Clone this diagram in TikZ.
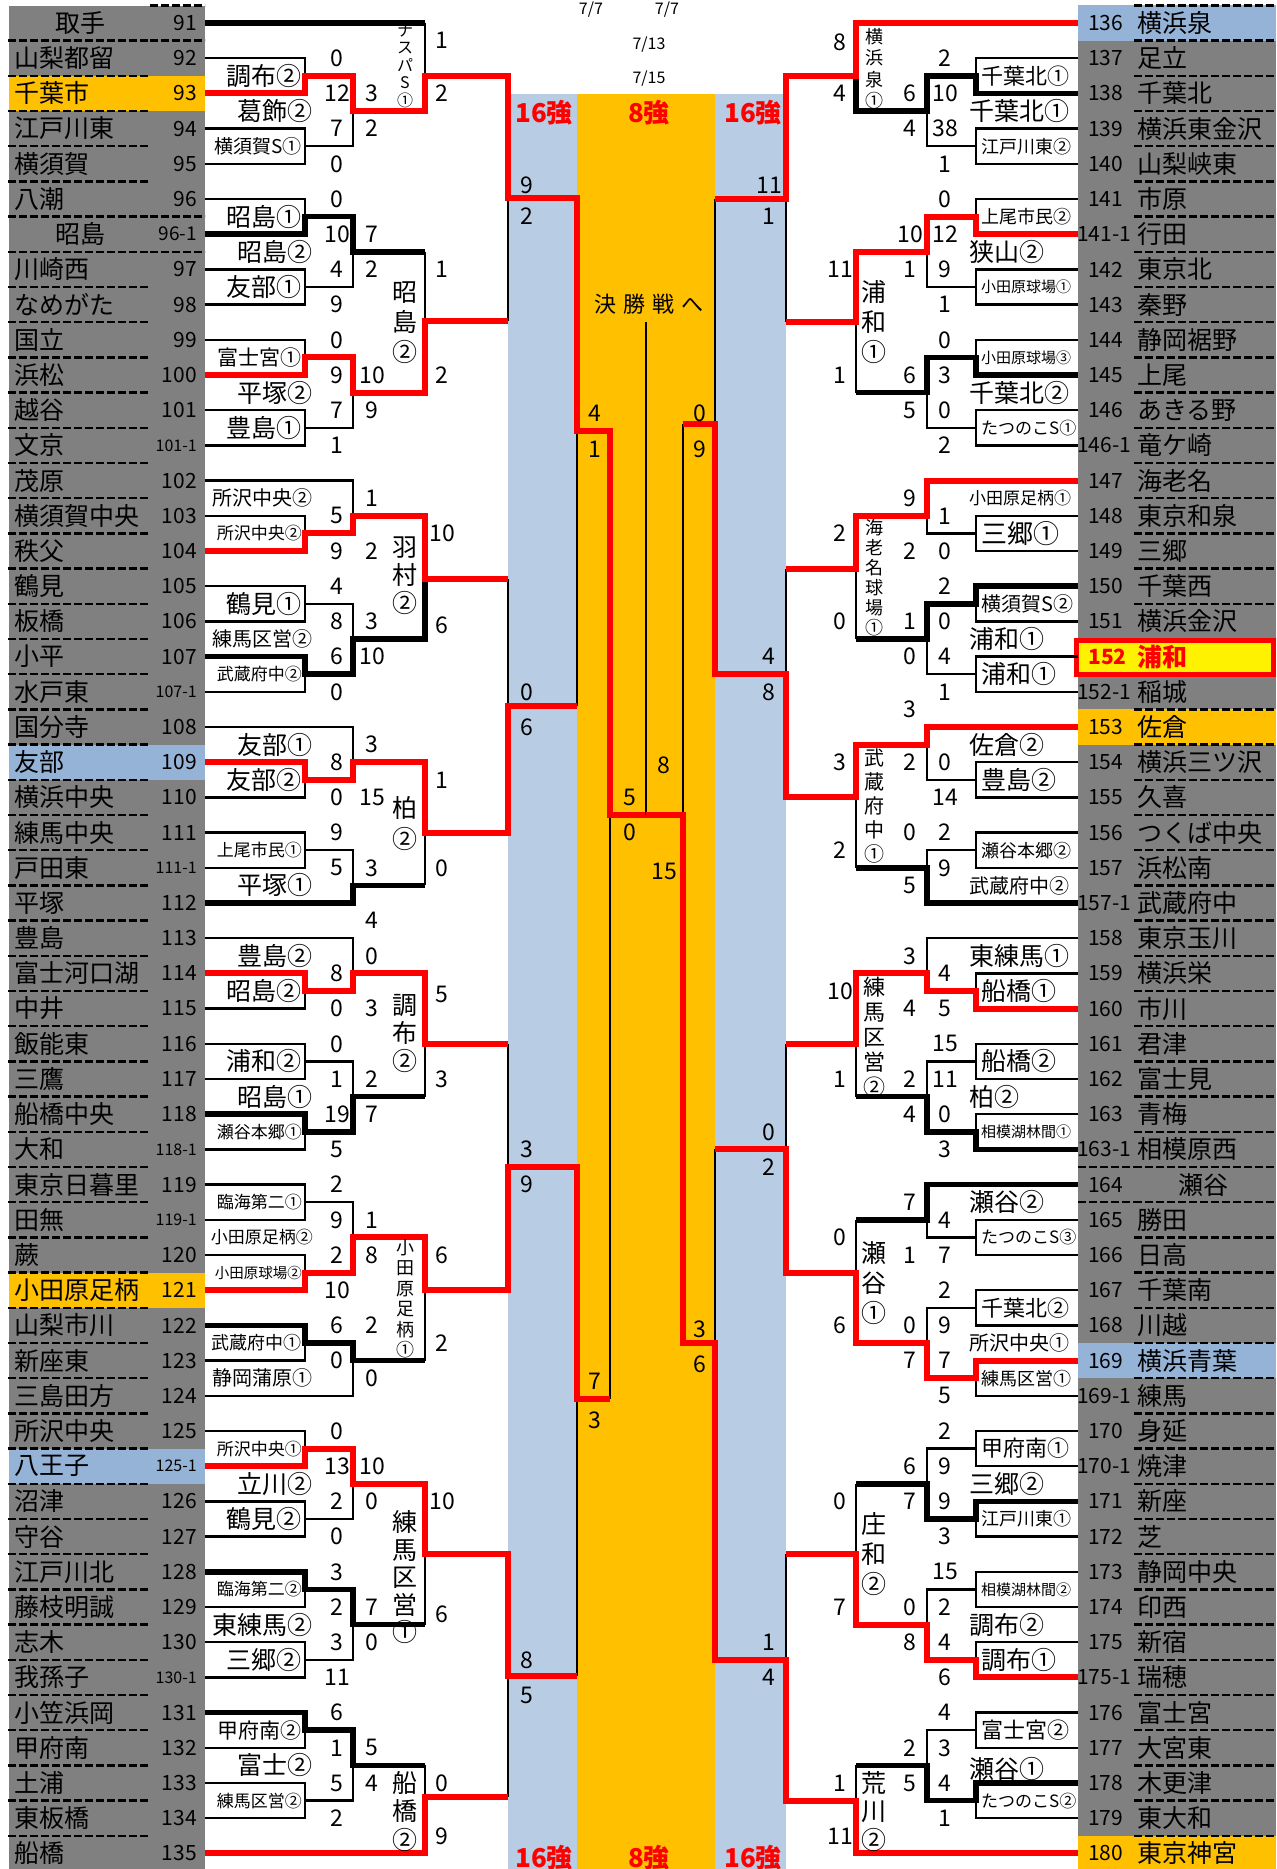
\documentclass[tikz,border=0pt]{standalone}
\usepackage{fontspec}
\setmainfont{Noto Sans CJK JP}
\newcommand{\fsz}[1]{\fontsize{#1}{#1}\selectfont}
\newcommand{\smn}[1]{{\fsz{16}#1}}
\newcommand{\rmn}[1]{\hspace*{-11pt}#1}
\newcommand{\hlt}[1]{\textcolor{red}{\bfseries #1}}
\definecolor{cgray}{HTML}{808080}
\definecolor{cband}{HTML}{B8CCE4}
\definecolor{cora}{HTML}{FFC000}
\definecolor{cblue}{HTML}{95B3D7}
\tikzset{
  tln/.style={line width=2.5pt},
  kln/.style={line width=5.5pt},
  rln/.style={line width=6pt,red},
  dln/.style={line width=2.5pt,dash pattern=on 8pt off 3pt},
  sc/.style={font=\fsz{23},inner sep=0pt},
  lname/.style={font=\fsz{25},inner sep=0pt,anchor=west},
  lnum/.style={font=\fsz{21},inner sep=0pt},
  nl/.style={},
  nc/.style={anchor=center,xshift=66pt},
  blab/.style={inner sep=0pt},
  vt/.style={align=center,inner sep=0pt},
  rank/.style={font=\fsz{26}\bfseries,text=red,inner sep=0pt},
}
\begin{document}
\begin{tikzpicture}[x=1pt,y=-35.2pt]
\path[use as bounding box,fill=white] (0,-0.6534) rectangle (1276,52.443);

% columns and bands
\fill[cgray] (9,-0.48) rectangle (205,52.443);
\fill[cgray] (1078,-0.48) rectangle (1276,52.443);
\fill[cband] (508,2.02) rectangle (577,52.443);
\fill[cora] (577,2.02) rectangle (715,52.443);
\fill[cband] (715,2.02) rectangle (786,52.443);

% highlighted rows
\foreach \rw/\c in {2/cora,21/cblue,36/cora,41/cblue}
  \fill[\c] (9,\rw-0.5) rectangle (205,\rw+0.5);
\foreach \rw/\c in {0/cblue,20/cora,38/cblue,52/cora}
  \fill[\c] (1078,\rw-0.5) rectangle (1276,\rw+0.5);

% dashed row rules
\foreach \k in {0,...,51} {
  \draw[dln] (8,\k+0.5) -- (150,\k+0.5);
  \draw[dln] (1134,\k+0.5) -- (1276,\k+0.5);
}
\draw[dln] (150,-0.5) -- (205,-0.5) (150,0.5) -- (205,0.5) (150,5.5) -- (205,5.5) (150,6.5) -- (205,6.5);
\draw[dln] (1134,-0.5) -- (1276,-0.5) (1078,32.5) -- (1134,32.5) (1078,33.5) -- (1134,33.5);
\draw[red,line width=5pt,fill=yellow] (1076,17.53) rectangle (1273,18.52);

% left teams
\foreach \no/\nm/\st [count=\rw from 0] in {91/取手/nc, 92/山梨都留/nl, 93/千葉市/nl, 94/江戸川東/nl, 95/横須賀/nl, 96/八潮/nl, {\fsz{19}96-1}/昭島/nc, 97/川崎西/nl, 98/なめがた/nl, 99/国立/nl, 100/浜松/nl, 101/越谷/nl, {\smn{101-1}}/文京/nl, 102/茂原/nl, 103/横須賀中央/nl, 104/秩父/nl, 105/鶴見/nl, 106/板橋/nl, 107/小平/nl, {\smn{107-1}}/水戸東/nl, 108/国分寺/nl, 109/友部/nl, 110/横浜中央/nl, 111/練馬中央/nl, {\smn{111-1}}/戸田東/nl, 112/平塚/nl, 113/豊島/nl, 114/富士河口湖/nl, 115/中井/nl, 116/飯能東/nl, 117/三鷹/nl, 118/船橋中央/nl, {\smn{118-1}}/大和/nl, 119/東京日暮里/nl, {\smn{119-1}}/田無/nl, 120/蕨/nl, 121/小田原足柄/nl, 122/山梨市川/nl, 123/新座東/nl, 124/三島田方/nl, 125/所沢中央/nl, {\smn{125-1}}/八王子/nl, 126/沼津/nl, 127/守谷/nl, 128/江戸川北/nl, 129/藤枝明誠/nl, 130/志木/nl, {\smn{130-1}}/我孫子/nl, 131/小笠浜岡/nl, 132/甲府南/nl, 133/土浦/nl, 134/東板橋/nl, 135/船橋/nl} {
  \node[lname,\st] (ln\rw) at (14,\rw) {\nm};
  \node[lnum,anchor=east] (lx\rw) at (197,\rw) {\no};
}

% right teams
\foreach \no/\nm/\st [count=\rw from 0] in {136/横浜泉/nl, 137/足立/nl, 138/千葉北/nl, 139/横浜東金沢/nl, 140/山梨峡東/nl, 141/市原/nl, {\rmn{141-1}}/行田/nl, 142/東京北/nl, 143/秦野/nl, 144/静岡裾野/nl, 145/上尾/nl, 146/あきる野/nl, {\rmn{146-1}}/竜ケ崎/nl, 147/海老名/nl, 148/東京和泉/nl, 149/三郷/nl, 150/千葉西/nl, 151/横浜金沢/nl, {\hlt{152}}/{\hlt{浦和}}/nl, {\rmn{152-1}}/稲城/nl, 153/佐倉/nl, 154/横浜三ツ沢/nl, 155/久喜/nl, 156/つくば中央/nl, 157/浜松南/nl, {\rmn{157-1}}/武蔵府中/nl, 158/東京玉川/nl, 159/横浜栄/nl, 160/市川/nl, 161/君津/nl, 162/富士見/nl, 163/青梅/nl, {\rmn{163-1}}/相模原西/nl, 164/瀬谷/nc, 165/勝田/nl, 166/日高/nl, 167/千葉南/nl, 168/川越/nl, 169/横浜青葉/nl, {\rmn{169-1}}/練馬/nl, 170/身延/nl, {\rmn{170-1}}/焼津/nl, 171/新座/nl, 172/芝/nl, 173/静岡中央/nl, 174/印西/nl, 175/新宿/nl, {\rmn{175-1}}/瑞穂/nl, 176/富士宮/nl, 177/大宮東/nl, 178/木更津/nl, 179/東大和/nl, 180/東京神宮/nl} {
  \node[lname,\st] (rn\rw) at (1137,\rw) {\nm};
  \node[lnum,anchor=west] (rx\rw) at (1088,\rw) {\no};
}

% left bracket, plain lines
\draw[tln] (205,1) -- (305,1) -- (305,1.5);
\draw[tln] (425,0) -- (425,1.5);
\draw[tln] (205,3) -- (305,3) -- (305,4) -- (205,4) (305,3.5) -- (353,3.5) -- (353,2.5);
\draw[tln] (205,5) -- (305,5) -- (305,5.5);
\draw[tln] (425,6.5) -- (425,8.47);
\draw[tln] (205,7) -- (305,7) -- (305,8) -- (205,8) (305,7.5) -- (353,7.5) -- (353,6.5);
\draw[tln] (205,9) -- (305,9) -- (305,9.5);
\draw[tln] (508,8.47) -- (508,4.98);
\draw[tln] (205,11) -- (305,11) -- (305,12) -- (205,12) (305,11.5) -- (353,11.5) -- (353,10.5);
\draw[tln] (205,13) -- (353,13) -- (353,14);
\draw[tln] (205,14) -- (305,14) -- (305,14.5);
\draw[tln] (508,15.8) -- (508,19.4);
\draw[tln] (205,16) -- (305,16) -- (305,17) -- (205,17) (305,16.5) -- (353,16.5) -- (353,17.5);
\draw[tln] (205,19) -- (305,19) -- (305,18.5);
\draw[tln] (205,20) -- (353,20) -- (353,21);
\draw[tln] (577,19.4) -- (577,11.6);
\draw[tln] (205,22) -- (305,22) -- (305,21.5);
\draw[tln] (205,23) -- (305,23) -- (305,24) -- (205,24) (305,23.5) -- (353,23.5) -- (353,24.5);
\draw[tln] (425,24.5) -- (425,23);
\draw[tln] (205,26) -- (353,26) -- (353,27);
\draw[tln] (508,29) -- (508,32.5);
\draw[tln] (205,28) -- (305,28) -- (305,27.5);
\draw[tln] (205,29) -- (305,29) -- (305,30) -- (205,30) (305,29.5) -- (353,29.5) -- (353,30.5);
\draw[tln] (425,30.5) -- (425,29);
\draw[tln] (205,32) -- (305,32) -- (305,31.5);
\draw[tln] (205,33) -- (305,33) -- (305,34) -- (205,34) (305,33.5) -- (353,33.5) -- (353,34.5);
\draw[tln] (205,35) -- (305,35) -- (305,35.5);
\draw[tln] (610,39.1) -- (610,22.5);
\draw[tln] (425,38) -- (425,36);
\draw[tln] (205,38) -- (305,38) -- (305,37.5);
\draw[tln] (205,39) -- (353,39) -- (353,38);
\draw[tln] (205,40) -- (305,40) -- (305,40.5);
\draw[tln] (577,46.95) -- (577,39.1);
\draw[tln] (205,42) -- (305,42) -- (305,43) -- (205,43) (305,42.5) -- (353,42.5) -- (353,41.5);
\draw[tln] (425,45.5) -- (425,43.5);
\draw[tln] (205,45) -- (305,45) -- (305,44.5);
\draw[tln] (205,46) -- (305,46) -- (305,47) -- (205,47) (305,46.5) -- (353,46.5) -- (353,45.5);
\draw[tln] (425,49.5) -- (425,50.4);
\draw[tln] (205,49) -- (305,49) -- (305,48.5);
\draw[tln] (205,50) -- (305,50) -- (305,51) -- (205,51) (305,50.5) -- (353,50.5) -- (353,49.5);
\draw[tln] (508,50.4) -- (508,46.95);

% left bracket, bold lines
\draw[kln] (205,0) -- (425,0);
\draw[kln] (205,6) -- (305,6) -- (305,5.5) -- (353,5.5) -- (353,6.5) -- (425,6.5);
\draw[kln] (205,18) -- (305,18) -- (305,18.5) -- (353,18.5) -- (353,17.5) -- (425,17.5) -- (425,15.8);
\draw[kln] (205,25) -- (353,25) -- (353,24.5) -- (425,24.5);
\draw[kln] (205,31) -- (305,31) -- (305,31.5) -- (353,31.5) -- (353,30.5) -- (425,30.5);
\draw[kln] (205,37) -- (305,37) -- (305,37.5) -- (353,37.5) -- (353,38) -- (425,38);
\draw[kln] (205,44) -- (305,44) -- (305,44.5) -- (353,44.5) -- (353,45.5) -- (425,45.5);
\draw[kln] (205,48) -- (305,48) -- (305,48.5) -- (353,48.5) -- (353,49.5) -- (425,49.5);

% left bracket, red lines
\draw[rln] (205,2) -- (305,2) -- (305,1.5) -- (353,1.5) -- (353,2.5) -- (425,2.5) -- (425,1.5) -- (508,1.5) -- (508,4.98) -- (577,4.98) -- (577,11.6) -- (610,11.6) -- (610,22.5) -- (646,22.5);
\draw[rln] (205,10) -- (305,10) -- (305,9.5) -- (353,9.5) -- (353,10.5) -- (425,10.5) -- (425,8.47) -- (508,8.47);
\draw[rln] (205,15) -- (305,15) -- (305,14.5) -- (353,14.5) -- (353,14) -- (425,14) -- (425,15.8) -- (508,15.8);
\draw[rln] (205,21) -- (305,21) -- (305,21.5) -- (353,21.5) -- (353,21) -- (425,21) -- (425,23) -- (508,23) -- (508,19.4) -- (577,19.4);
\draw[rln] (205,27) -- (305,27) -- (305,27.5) -- (353,27.5) -- (353,27) -- (425,27) -- (425,29) -- (508,29);
\draw[rln] (205,36) -- (305,36) -- (305,35.5) -- (353,35.5) -- (353,34.5) -- (425,34.5) -- (425,36) -- (508,36) -- (508,32.5) -- (577,32.5) -- (577,39.1) -- (610,39.1);
\draw[rln] (205,41) -- (305,41) -- (305,40.5) -- (353,40.5) -- (353,41.5) -- (425,41.5) -- (425,43.5) -- (508,43.5) -- (508,46.95) -- (577,46.95);
\draw[rln] (205,52) -- (425,52) -- (425,50.4) -- (508,50.4);

% right bracket, plain lines
\draw[tln] (715,5) -- (715,11.4);
\draw[tln] (1078,1) -- (976,1) -- (976,1.5);
\draw[tln] (1078,3) -- (976,3) -- (976,4) -- (1078,4) (976,3.5) -- (927,3.5) -- (927,2.5);
\draw[tln] (1078,5) -- (976,5) -- (976,5.5);
\draw[tln] (786,8.5) -- (786,5);
\draw[tln] (1078,7) -- (976,7) -- (976,8) -- (1078,8) (976,7.5) -- (927,7.5) -- (927,6.5);
\draw[tln] (1078,9) -- (976,9) -- (976,9.5);
\draw[tln] (856,10.5) -- (856,8.5);
\draw[tln] (1078,11) -- (976,11) -- (976,12) -- (1078,12) (976,11.5) -- (927,11.5) -- (927,10.5);
\draw[tln] (786,15.5) -- (786,18.5);
\draw[tln] (1078,14) -- (976,14) -- (976,15) -- (1078,15) (976,14.5) -- (927,14.5) -- (927,14);
\draw[tln] (856,17.5) -- (856,15.5);
\draw[tln] (1078,17) -- (976,17) -- (976,16.5);
\draw[tln] (1078,18) -- (976,18) -- (976,19) -- (1078,19) (976,18.5) -- (927,18.5) -- (927,17.5);
\draw[tln] (683,11.4) -- (683,22.5);
\draw[tln] (1078,21) -- (976,21) -- (976,22) -- (1078,22) (976,21.5) -- (927,21.5) -- (927,20.5);
\draw[tln] (1078,23) -- (976,23) -- (976,24) -- (1078,24) (976,23.5) -- (927,23.5) -- (927,24);
\draw[tln] (856,24) -- (856,22);
\draw[tln] (1078,26) -- (927,26) -- (927,27);
\draw[tln] (1078,27) -- (976,27) -- (976,27.5);
\draw[tln] (786,29) -- (786,32);
\draw[tln] (1078,29) -- (976,29) -- (976,30) -- (1078,30) (976,29.5) -- (927,29.5) -- (927,30.5);
\draw[tln] (1078,31) -- (976,31) -- (976,31.5);
\draw[tln] (856,30.5) -- (856,29);
\draw[tln] (856,34) -- (856,35.5);
\draw[tln] (1078,34) -- (976,34) -- (976,35) -- (1078,35) (976,34.5) -- (927,34.5) -- (927,34);
\draw[tln] (1078,36) -- (976,36) -- (976,37) -- (1078,37) (976,36.5) -- (927,36.5) -- (927,37.5);
\draw[tln] (715,32) -- (715,37.5);
\draw[tln] (1078,39) -- (976,39) -- (976,38.5);
\draw[tln] (1078,40) -- (976,40) -- (976,41) -- (1078,41) (976,40.5) -- (927,40.5) -- (927,41.5);
\draw[tln] (856,41.5) -- (856,43.5);
\draw[tln] (1078,43) -- (976,43) -- (976,42.5);
\draw[tln] (1078,44) -- (976,44) -- (976,45) -- (1078,45) (976,44.5) -- (927,44.5) -- (927,45.5);
\draw[tln] (1078,46) -- (976,46) -- (976,46.5);
\draw[tln] (786,43.5) -- (786,46.5);
\draw[tln] (1078,48) -- (976,48) -- (976,49) -- (1078,49) (976,48.5) -- (927,48.5) -- (927,49.5);
\draw[tln] (856,49.5) -- (856,50.5);
\draw[tln] (1078,51) -- (976,51) -- (976,50.5);
\draw[tln] (646,8.5) -- (646,22.5);

% right bracket, bold lines
\draw[kln] (1078,2) -- (976,2) -- (976,1.5) -- (927,1.5) -- (927,2.5) -- (856,2.5) -- (856,1.5);
\draw[kln] (1078,10) -- (976,10) -- (976,9.5) -- (927,9.5) -- (927,10.5) -- (856,10.5);
\draw[kln] (1078,16) -- (976,16) -- (976,16.5) -- (927,16.5) -- (927,17.5) -- (856,17.5);
\draw[kln] (1078,25) -- (927,25) -- (927,24) -- (856,24);
\draw[kln] (1078,32) -- (976,32) -- (976,31.5) -- (927,31.5) -- (927,30.5) -- (856,30.5);
\draw[kln] (1078,33) -- (927,33) -- (927,34) -- (856,34);
\draw[kln] (1078,42) -- (976,42) -- (976,42.5) -- (927,42.5) -- (927,41.5) -- (856,41.5);
\draw[kln] (1078,50) -- (976,50) -- (976,50.5) -- (927,50.5) -- (927,49.5) -- (856,49.5);

% right bracket, red lines
\draw[rln] (1078,0) -- (856,0) -- (856,1.5) -- (786,1.5) -- (786,5) -- (715,5);
\draw[rln] (1078,6) -- (976,6) -- (976,5.5) -- (927,5.5) -- (927,6.5) -- (856,6.5) -- (856,8.5) -- (786,8.5);
\draw[rln] (1078,13) -- (927,13) -- (927,14) -- (856,14) -- (856,15.5) -- (786,15.5);
\draw[rln] (1078,20) -- (927,20) -- (927,20.5) -- (856,20.5) -- (856,22) -- (786,22) -- (786,18.5) -- (715,18.5) -- (715,11.4) -- (683,11.4);
\draw[rln] (1078,28) -- (976,28) -- (976,27.5) -- (927,27.5) -- (927,27) -- (856,27) -- (856,29) -- (786,29);
\draw[rln] (1078,38) -- (976,38) -- (976,38.5) -- (927,38.5) -- (927,37.5) -- (856,37.5) -- (856,35.5) -- (786,35.5) -- (786,32) -- (715,32);
\draw[rln] (1078,47) -- (976,47) -- (976,46.5) -- (927,46.5) -- (927,45.5) -- (856,45.5) -- (856,43.5) -- (786,43.5);
\draw[rln] (1078,52) -- (856,52) -- (856,50.5) -- (786,50.5) -- (786,46.5) -- (715,46.5) -- (715,37.5) -- (683,37.5) -- (683,22.5) -- (646,22.5);

% venues, first round (left)
\foreach \rw/\nm/\f [count=\i] in {1.5/調布②/25, 3.5/横須賀S①/19, 5.5/昭島①/25, 7.5/友部①/25, 9.5/富士宮①/21, 11.5/豊島①/25, 14.5/所沢中央②/17, 16.5/鶴見①/25, 18.5/武蔵府中②/17, 21.5/友部②/25, 23.5/上尾市民①/17, 27.5/昭島②/25, 29.5/浦和②/25, 31.5/瀬谷本郷①/17, 33.5/臨海第二①/17, 35.5/小田原球場②/14.5, 37.5/武蔵府中①/18, 40.5/所沢中央①/17, 42.5/鶴見②/25, 44.5/臨海第二②/17, 46.5/三郷②/25, 48.5/甲府南②/21, 50.5/練馬区営②/17}
  \node[blab,anchor=east,font=\fsz{\f}] (lva\i) at (302,\rw) {\nm};
% venues, second round (left)
\foreach \rw/\nm/\f [count=\i] in {2.5/葛飾②/25, 6.5/昭島②/25, 10.5/平塚②/25, 13.5/所沢中央②/20, 17.5/練馬区営②/20, 20.5/友部①/25, 24.5/平塚①/25, 26.5/豊島②/25, 30.5/昭島①/25, 34.5/小田原足柄②/17, 38.5/静岡蒲原①/20, 41.5/立川②/25, 45.5/東練馬②/25, 49.5/富士②/25}
  \node[blab,anchor=east,font=\fsz{\f}] (lvb\i) at (313,\rw) {\nm};
% venues, first round (right)
\foreach \rw/\nm/\f [count=\i] in {1.5/千葉北①/22, 3.5/江戸川東②/18, 5.5/上尾市民②/18, 7.5/小田原球場①/15, 9.5/小田原球場③/15, 11.5/たつのこS①/17, 14.5/三郷①/26, 16.5/横須賀S②/20, 18.5/浦和①/25, 21.5/豊島②/25, 23.5/瀬谷本郷②/18, 27.5/船橋①/25, 29.5/船橋②/25, 31.5/相模湖林間①/15, 34.5/たつのこS③/17, 36.5/千葉北②/22, 38.5/練馬区営①/18, 40.5/甲府南①/22, 42.5/江戸川東①/18, 44.5/相模湖林間②/15, 46.5/調布①/25, 48.5/富士宮②/22, 50.5/たつのこS②/17}
  \node[blab,anchor=west,font=\fsz{\f}] (rva\i) at (981,\rw) {\nm};
% venues, second round (right)
\foreach \rw/\nm/\f [count=\i] in {2.5/千葉北①/25, 6.5/狭山②/25, 10.5/千葉北②/25, 13.5/小田原足柄①/17, 17.5/浦和①/25, 20.5/佐倉②/25, 24.5/武蔵府中②/20, 26.5/東練馬①/25, 30.5/柏②/25, 33.5/瀬谷②/25, 37.5/所沢中央①/20, 41.5/三郷②/25, 45.5/調布②/25, 49.6/瀬谷①/25}
  \node[blab,anchor=west,font=\fsz{\f}] (rvb\i) at (969,\rw) {\nm};

% venues, third round
\node[vt,font=\fontsize{16}{17.5}\selectfont] (lvc1) at (405,1.22) {ナ\\ス\\パ\\S\\①};
\node[vt,font=\fontsize{25}{30}\selectfont] (lvc2) at (405,8.5) {昭\\島\\②};
\node[vt,font=\fontsize{25}{28}\selectfont] (lvc3) at (405,15.7) {羽\\村\\②};
\node[vt,font=\fontsize{25}{31}\selectfont] (lvc4) at (405,22.75) {柏\\②};
\node[vt,font=\fontsize{25}{28}\selectfont] (lvc5) at (405,28.7) {調\\布\\②};
\node[vt,font=\fontsize{18}{20.5}\selectfont] (lvc6) at (405,36.25) {小\\田\\原\\足\\柄\\①};
\node[vt,font=\fontsize{25}{27.5}\selectfont] (lvc7) at (405,44.15) {練\\馬\\区\\営\\①};
\node[vt,font=\fontsize{25}{28.5}\selectfont] (lvc8) at (405,50.8) {船\\橋\\②};
\node[vt,font=\fontsize{18}{21.5}\selectfont] (rvc1) at (874,1.3) {横\\浜\\泉\\①};
\node[vt,font=\fontsize{25}{30}\selectfont] (rvc2) at (874,8.5) {浦\\和\\①};
\node[vt,font=\fontsize{18}{20}\selectfont] (rvc3) at (874,15.75) {海\\老\\名\\球\\場\\①};
\node[vt,font=\fontsize{20}{24}\selectfont] (rvc4) at (874,22.25) {武\\蔵\\府\\中\\①};
\node[vt,font=\fontsize{22}{25}\selectfont] (rvc5) at (874,28.8) {練\\馬\\区\\営\\②};
\node[vt,font=\fontsize{25}{30}\selectfont] (rvc6) at (874,35.8) {瀬\\谷\\①};
\node[vt,font=\fontsize{25}{30}\selectfont] (rvc7) at (874,43.5) {庄\\和\\②};
\node[vt,font=\fontsize{25}{28.5}\selectfont] (rvc8) at (874,50.8) {荒\\川\\②};

% scores (left)
\foreach \rw/\v [count=\i] in {1/0,2/12,3/7,4/0,5/0,6/10,7/4,8/9,9/0,10/9,11/7,12/1,14/5,15/9,16/4,17/8,18/6,19/0,21/8,22/0,23/9,24/5,27/8,28/0,29/0,30/1,31/19,32/5,33/2,34/9,35/2,36/10,37/6,38/0,40/0,41/13,42/2,43/0,44/3,45/2,46/3,47/11,48/6,49/1,50/5,51/2}
  \node[sc] (lsa\i) at (337,\rw) {\v};
\foreach \rw/\v [count=\i] in {2/3,3/2,6/7,7/2,10/10,11/9,13.5/1,15/2,17/3,18/10,20.5/3,22/15,24/3,25.5/4,26.5/0,28/3,30/2,31/7,34/1,35/8,37/2,38.5/0,41/10,42/0,45/7,46/0,49/5,50/4}
  \node[sc] (lsb\i) at (372,\rw) {\v};
\foreach \rw/\v [count=\i] in {0.5/1,2/2,7/1,10/2,14.5/10,17.1/6,21.5/1,24/0,27.6/5,30/3,35/6,37.5/2,42/10,45.2/6,50/0,51.5/9}
  \node[sc] (lsc\i) at (442,\rw) {\v};
\foreach \rw/\v [count=\i] in {4.6/9,5.5/2,19/0,20/6,32/3,33/9,46.5/8,47.5/5}
  \node[sc] (lsd\i) at (527,\rw) {\v};
\foreach \rw/\v [count=\i] in {11.1/4,12.1/1,38.6/7,39.7/3}
  \node[sc] (lse\i) at (595,\rw) {\v};
\foreach \rw/\v [count=\i] in {22/5,23/0}
  \node[sc] (lsf\i) at (630,\rw) {\v};

% scores (right)
\foreach \rw/\v [count=\i] in {1/2,2/10,3/38,4/1,5/0,6/12,7/9,8/1,9/0,10/3,11/0,12/2,14/1,15/0,16/2,17/0,18/4,19/1,21/0,22/14,23/2,24/9,27/4,28/5,29/15,30/11,31/0,32/3,34/4,35/7,36/2,37/9,38/7,39/5,40/2,41/9,42/9,43/3,44/15,45/2,46/4,47/6,48/4,49/3,50/4,51/1}
  \node[sc] (rsa\i) at (945,\rw) {\v};
\foreach \rw/\v [count=\i] in {2/6,3/4,6/10,7/1,10/6,11/5,13.5/9,15/2,17/1,18/0,19.5/3,21/2,23/0,24.5/5,26.5/3,28/4,30/2,31/4,33.5/7,35/1,37/0,38/7,41/6,42/7,45/0,46/8,49/2,50/5}
  \node[sc] (rsb\i) at (910,\rw) {\v};
\foreach \rw/\v [count=\i] in {0.54/8,2/4,7/11,10/1,14.5/2,17/0,21/3,23.5/2,27.5/10,30/1,34.5/0,37/6,42/0,45/7,50/1,51.5/11}
  \node[sc] (rsc\i) at (840,\rw) {\v};
\foreach \rw/\v [count=\i] in {4.6/11,5.5/1,18/4,19/8,31.5/0,32.5/2,46/1,47/4}
  \node[sc] (rsd\i) at (769,\rw) {\v};
\foreach \rw/\v [count=\i] in {11.1/0,12.1/9,37.1/3,38.1/6}
  \node[sc] (rse\i) at (700,\rw) {\v};
\foreach \rw/\v [count=\i] in {21.1/8,24.1/15}
  \node[sc] (rsf\i) at (664,\rw) {\v};

% headings
\node[font=\fsz{16},inner sep=0pt] (day1) at (591,-0.37) {7/7};
\node[font=\fsz{16},inner sep=0pt] (day2) at (667,-0.37) {7/7};
\node[font=\fsz{16},inner sep=0pt] (day3) at (649,0.62) {7/13};
\node[font=\fsz{16},inner sep=0pt] (day4) at (649,1.59) {7/15};
\node[rank] (tl16) at (544,2.56) {16強};
\node[rank] (t8) at (649,2.56) {8強};
\node[rank] (tr16) at (753,2.56) {16強};
\node[rank] (bl16) at (544,52.13) {16強};
\node[rank] (b8) at (649,52.13) {8強};
\node[rank] (br16) at (753,52.13) {16強};
\node[font=\fsz{22},inner sep=0pt] (fin) at (649,8.0) {決\hspace{7pt}勝\hspace{7pt}戦\hspace{7pt}へ};
\end{tikzpicture}
\end{document}
